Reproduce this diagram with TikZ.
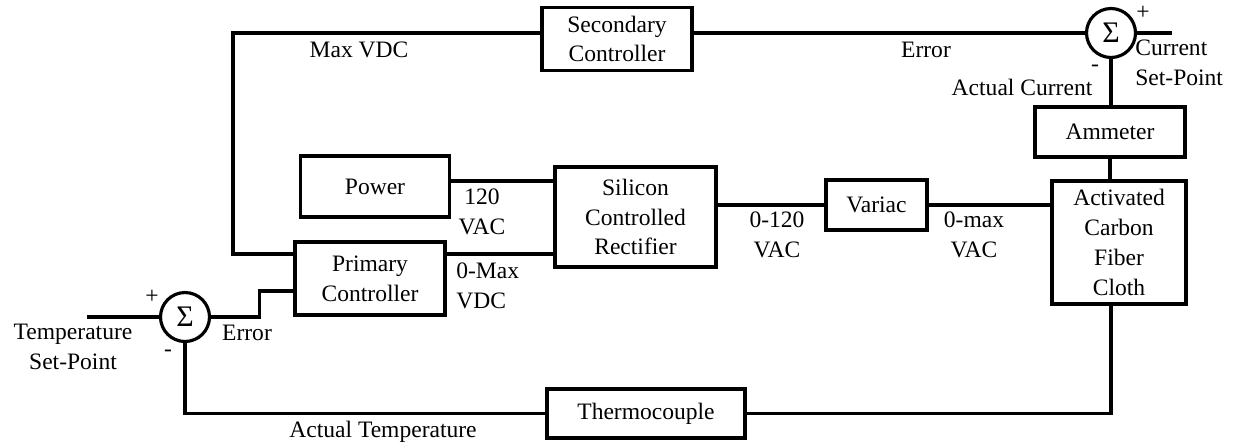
\documentclass[tikz,border=0pt]{standalone}
\usepackage{fontspec}
\setmainfont{Liberation Serif}
\usetikzlibrary{positioning, calc}

\begin{document}
\begin{tikzpicture}[x=0.02cm, y=-0.02cm,
    font=\fontsize{13.4}{17}\selectfont,
    blk/.style={draw, line width=1.8pt, align=center, inner sep=0pt},
    sumnode/.style={draw, circle, line width=1.8pt, minimum size=0.98cm, inner sep=0pt, font=\fontsize{17}{17}\selectfont},
    lbl/.style={inner sep=0pt},
    wire/.style={line width=1.8pt}]
    \useasboundingbox (0,0) rectangle (1239,444);

    % 上面一行
    \node[blk, minimum width=3cm, minimum height=1.26cm] (sec) at (617,39) {Secondary\\Controller};
    \node[sumnode] (sumcur) at (1111,33) {Σ};
    \node[blk, minimum width=3cm, minimum height=1cm] (amm) at (1110,132) {Ammeter};

    % 中间的功率链
    \node[blk, minimum width=2.98cm, minimum height=1.22cm] (pwr) at (375,186.5) {Power};
    \node[blk, minimum width=3.22cm, minimum height=2cm] (scr) at (635.5,217) {Silicon\\Controlled\\Rectifier};
    \node[blk, minimum width=2.02cm, minimum height=1cm] (var) at (876.5,205) {Variac};
    \node[blk, minimum width=2.68cm, minimum height=2.46cm] (acf) at (1119,242.5) {Activated\\Carbon\\Fiber\\Cloth};

    % 温度回路
    \node[blk, minimum width=3cm, minimum height=1.46cm] (pri) at (370,278.5) {Primary\\Controller};
    \node[sumnode] (sumtmp) at (185,317) {Σ};
    \node[blk, minimum width=3.96cm, minimum height=0.98cm] (tc) at (646,413.5) {Thermocouple};

    % 自由端
    \coordinate (tin) at (87,317);
    \coordinate (curin) at (1172,33);
    \coordinate (lcorner) at (233,33);

    % 电流回路的边
    \draw[wire] (curin) -- (sumcur.east);
    \draw[wire] (sumcur.west) -- (sumcur.west -| sec.east);
    \draw[wire] (sec.west |- sumcur) -- (lcorner) |- ([yshift=0.49cm]pri.west);
    \draw[wire] (sumcur.south) -- (sumcur.south |- amm.north);
    \draw[wire] (amm.south) -- (amm.south |- acf.north);

    % 功率链的边
    \draw[wire] ([yshift=0.11cm]pwr.east) coordinate (pa) -- (pa -| scr.west);
    \draw[wire] ([yshift=0.49cm]pri.east) coordinate (pv) -- (pv -| scr.west);
    \draw[wire] (var.west -| scr.east) -- (var.west);
    \draw[wire] (var.east) -- (var.east -| acf.west);

    % 温度回路的边
    \draw[wire] (sumcur |- acf.south) |- (tc.east);
    \draw[wire] (tc.west) -| (sumtmp.south);
    \draw[wire] (tin) -- (sumtmp.west);
    \draw[wire] (sumtmp.east) -- ++(0.97cm,0) |- ([yshift=-0.25cm]pri.west);

    % 标签
    \node[lbl, anchor=base] (maxvdc) at (359,57) {Max VDC};
    \node[lbl, anchor=base] (errcur) at (926,57) {Error};
    \node[lbl, anchor=base] (actcur) at (1022,95) {Actual Current};
    \node[lbl, align=left, anchor=west] (cursp) at (1135,63) {Current\\Set-Point};
    \node[lbl] (plcur) at (1143,13) {+};
    \node[lbl] (micur) at (1095,68) {-};
    \node[lbl, align=center] (v120) at (482,212) {120\\VAC};
    \node[lbl, align=left, anchor=west] (vmax) at (456,285.5) {0-Max\\VDC};
    \node[lbl, align=center] (vscr) at (777,235) {0-120\\VAC};
    \node[lbl, align=center] (vvar) at (974,235) {0-max\\VAC};
    \node[lbl, anchor=base] (errtmp) at (247,340) {Error};
    \node[lbl, align=center] (tsp) at (73,347) {Temperature\\Set-Point};
    \node[lbl] (pltmp) at (152,297) {+};
    \node[lbl] (mitmp) at (168,353) {-};
    \node[lbl, anchor=base] (acttmp) at (383,437) {Actual Temperature};
\end{tikzpicture}
\end{document}
